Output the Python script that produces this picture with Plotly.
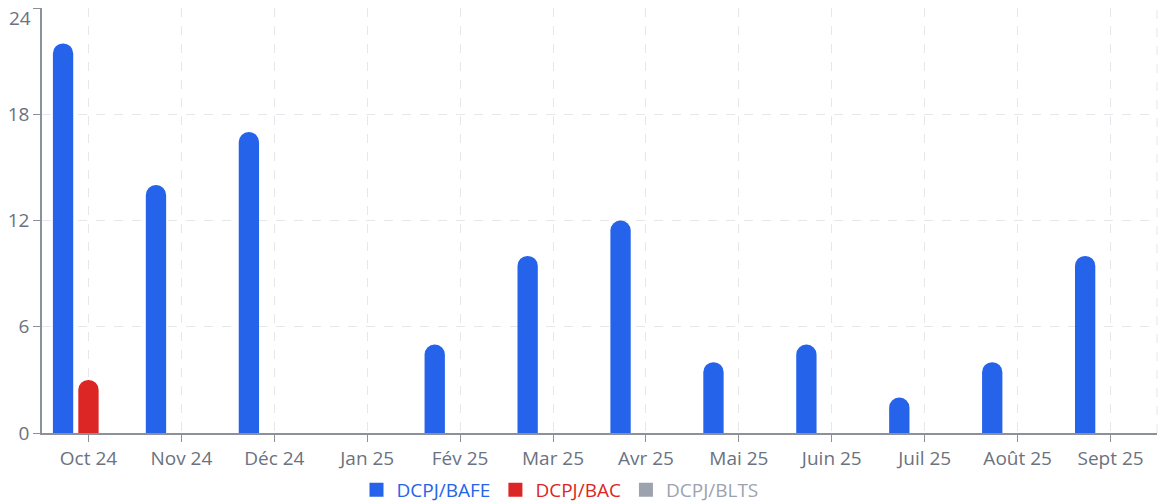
import plotly.graph_objects as go

months = ["Oct 24", "Nov 24", "Déc 24", "Jan 25", "Fév 25", "Mar 25",
          "Avr 25", "Mai 25", "Juin 25", "Juil 25", "Août 25", "Sept 25"]
bafe = [22, 14, 17, 0, 5, 10, 12, 4, 5, 2, 4, 10]
bac = [3, 0, 0, 0, 0, 0, 0, 0, 0, 0, 0, 0]
blts = [0, 0, 0, 0, 0, 0, 0, 0, 0, 0, 0, 0]
series_names = ["DCPJ/BAFE", "DCPJ/BAC", "DCPJ/BLTS"]
series_colors = ["#2563eb", "#dc2626", "#9ca3af"]
y_ticks = [0, 6, 12, 18, 24]

fig = go.Figure()
for name, vals, col in zip(series_names, [bafe, bac, blts], series_colors):
    fig.add_trace(go.Bar(
        x=months, y=vals, name=name, legendgroup=name, showlegend=False,
        marker=dict(color=col, line=dict(width=0)),
    ))
for name, col in zip(series_names, series_colors):
    fig.add_trace(go.Scatter(
        x=[months[0]], y=[None], mode="markers", legendgroup=name,
        name=f'<span style="color:{col}">{name}</span>',
        marker=dict(symbol="square", size=14, color=col),
        hoverinfo="skip",
    ))

y_top = max(y_ticks)
tick_text = [str(v) if v != y_top else "" for v in y_ticks]

font_family = "Open Sans, Noto Sans, sans-serif"
fs = 19
fig.update_layout(
    width=1164, height=504,
    margin=dict(l=42, r=7, t=8, b=71, autoexpand=False),
    paper_bgcolor="white", plot_bgcolor="white",
    barmode="group", bargap=0.18, bargroupgap=0.2,
    barcornerradius=10,
    font=dict(family=font_family, size=fs, color="#6b7280"),
    showlegend=True,
    legend=dict(orientation="h", xref="container", x=560 / 1164, xanchor="center",
                yref="container", y=14 / 504, yanchor="middle",
                font=dict(size=fs), itemclick=False, itemwidth=30,
                tracegroupgap=0),
    xaxis=dict(
        range=[-0.5, len(months) - 0.5],
        showline=True, linecolor="#8b9099", linewidth=1.5,
        ticks="outside", ticklen=7, tickcolor="#8b9099",
        showgrid=True, gridcolor="#e5e7eb", griddash="dash", gridwidth=1,
        tickfont=dict(size=fs, color="#6b7280"), automargin=False,
    ),
    yaxis=dict(
        range=[0, y_top], tickvals=y_ticks, ticktext=tick_text,
        showline=True, linecolor="#8b9099", linewidth=1.5,
        ticks="outside", ticklen=7, tickcolor="#8b9099",
        showgrid=True, gridcolor="#e5e7eb", griddash="dash", gridwidth=1,
        zeroline=False, automargin=False,
        tickfont=dict(size=fs, color="#6b7280"),
    ),
)
fig.add_annotation(xref="paper", yref="y", x=0, y=y_top, text=str(y_top),
                   xanchor="right", yanchor="middle", xshift=-9, yshift=-10,
                   showarrow=False, font=dict(size=fs, color="#6b7280"))
fig.add_shape(type="line", xref="paper", yref="paper", x0=1, x1=1, y0=0, y1=1,
              line=dict(color="#e5e7eb", width=1, dash="dash"))

fig.write_html("out.html", config={"displayModeBar": False},
               post_script="document.body.style.margin='0px';document.body.style.overflow='hidden';")
